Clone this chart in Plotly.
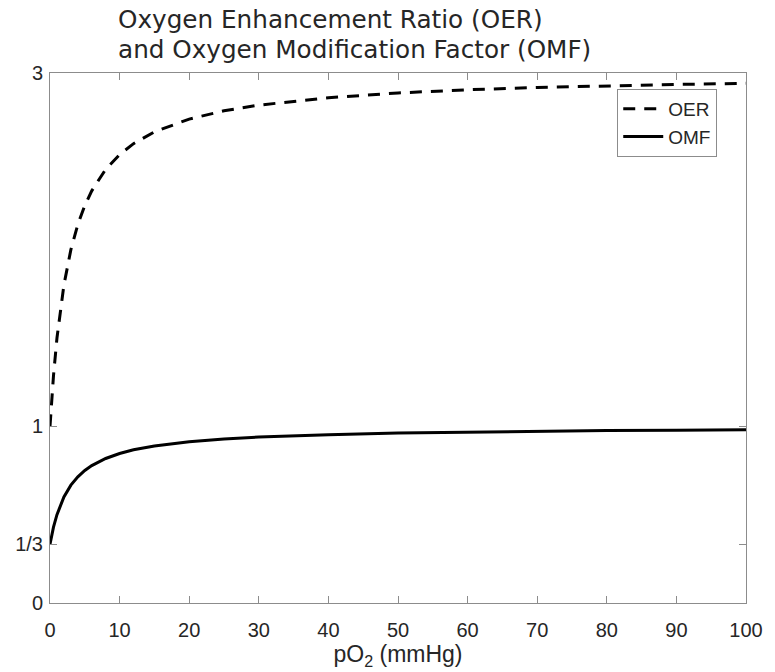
import plotly.graph_objects as go

# Oxygen partial pressure (mmHg)
po2 = [0, 0.1, 0.25, 0.5, 1, 1.5, 2, 3, 4, 5, 6, 8, 10, 12, 15, 20, 25, 30,
       40, 50, 60, 70, 80, 90, 100]

# Oxygen Enhancement Ratio
oer = [1.000, 1.065, 1.154, 1.286, 1.500, 1.667, 1.800, 2.000, 2.143, 2.250,
       2.333, 2.455, 2.538, 2.600, 2.667, 2.739, 2.786, 2.818, 2.860, 2.887,
       2.905, 2.918, 2.928, 2.935, 2.942]

# Oxygen Modification Factor
omf = [0.333, 0.355, 0.385, 0.429, 0.500, 0.556, 0.600, 0.667, 0.714, 0.750,
       0.778, 0.818, 0.846, 0.867, 0.889, 0.913, 0.929, 0.939, 0.953, 0.962,
       0.968, 0.973, 0.976, 0.978, 0.981]

x_ticks = [0, 10, 20, 30, 40, 50, 60, 70, 80, 90, 100]
y_tickvals = [0, 1 / 3, 1, 3]
y_ticktext = ["0", "1/3", "1", "3"]
title_lines = ["Oxygen Enhancement Ratio (OER)",
               "and Oxygen Modification Factor (OMF)"]

AX = "#8c8c8c"
TXT = "#262626"
SANS = "Liberation Sans, Arial, sans-serif"
TICKFONT = dict(family=SANS, size=20, color=TXT)

# plot area in pixels: top 73, bottom 603, left 50, width 696
PLOT_TOP, PLOT_BOTTOM, PLOT_LEFT, PLOT_W = 73, 603, 50, 696


def paper_y(px):
    return (PLOT_BOTTOM - px) / (PLOT_BOTTOM - PLOT_TOP)


fig = go.Figure()
fig.add_trace(go.Scatter(x=po2, y=oer, mode="lines", name="OER",
                         line=dict(color="black", width=3, dash="12px,9px")))
fig.add_trace(go.Scatter(x=po2, y=omf, mode="lines", name="OMF",
                         line=dict(color="black", width=3)))

title_annotations = [
    dict(text=line, xref="paper", yref="paper",
         x=(116 - PLOT_LEFT) / PLOT_W, y=paper_y(ypx),
         xanchor="left", yanchor="middle", align="left", showarrow=False,
         font=dict(family="DejaVu Sans, sans-serif", size=24.7, color=TXT))
    for line, ypx in zip(title_lines, [20, 49])
]

fig.update_layout(
    width=775, height=672,
    margin=dict(l=PLOT_LEFT, r=29, t=PLOT_TOP, b=69),
    paper_bgcolor="white", plot_bgcolor="white",
    showlegend=True,
    legend=dict(x=0.815, y=0.97, xanchor="left", yanchor="top",
                bgcolor="white", bordercolor=AX, borderwidth=1,
                font=dict(family=SANS, size=19, color=TXT),
                itemwidth=40, tracegroupgap=0),
    xaxis=dict(range=[0, 100], tickvals=x_ticks, ticks="inside", ticklen=7,
               tickcolor=AX, showline=True, linecolor=AX, linewidth=1,
               mirror="ticks", showgrid=False, zeroline=False,
               tickfont=TICKFONT, ticklabelstandoff=9,
               title=dict(text="pO<sub>2</sub> (mmHg)", standoff=1,
                          font=dict(family=SANS, size=23, color=TXT))),
    yaxis=dict(range=[0, 3], tickvals=y_tickvals, ticktext=y_ticktext,
               ticks="inside", ticklen=7, tickcolor=AX, showline=True,
               linecolor=AX, linewidth=1, mirror="ticks", showgrid=False,
               zeroline=False, tickfont=TICKFONT, ticklabelstandoff=2),
    annotations=title_annotations,
)

fig.write_html("out.html")
